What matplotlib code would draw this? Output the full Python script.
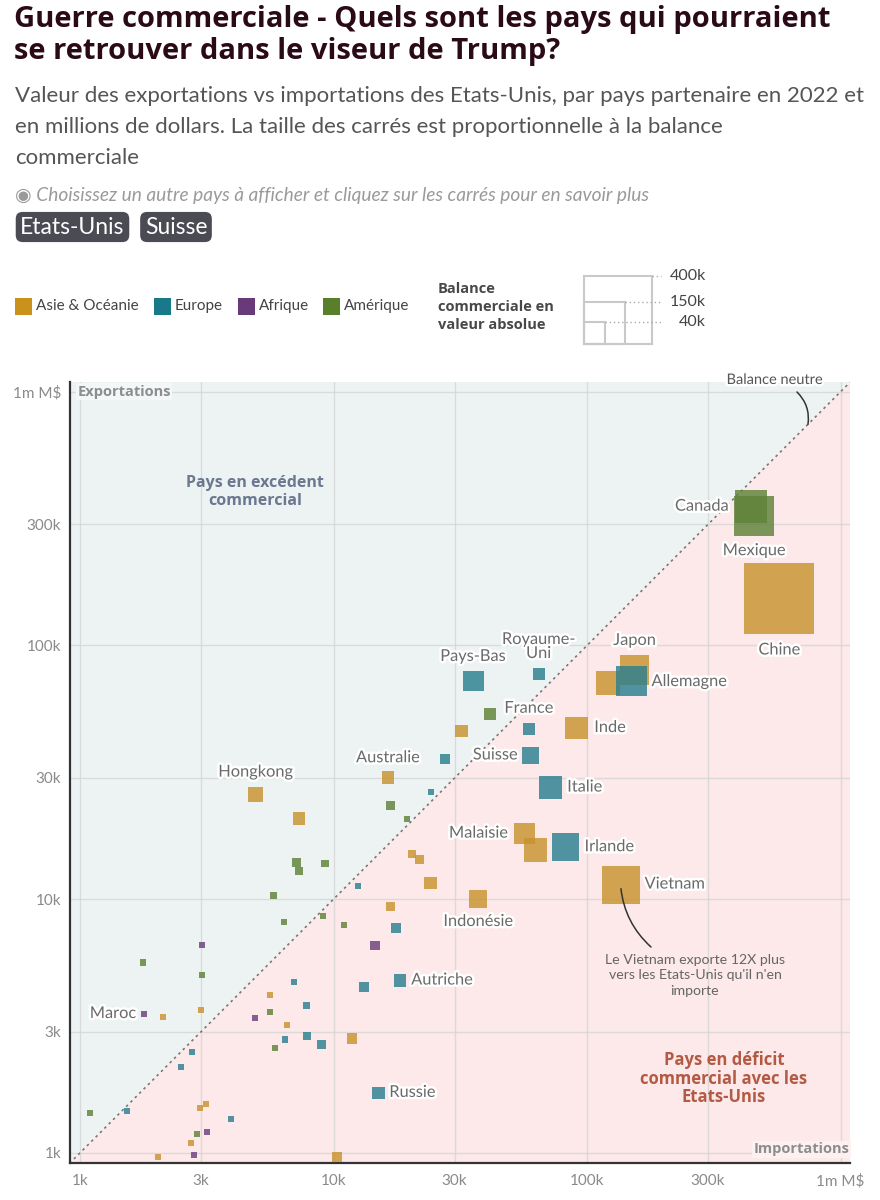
import numpy as np
import matplotlib
matplotlib.use('Agg')
import matplotlib.pyplot as plt
from matplotlib import patheffects as pe
from matplotlib.patches import Rectangle
from matplotlib.ticker import FixedLocator, FixedFormatter, NullLocator

plt.rcParams['font.family'] = ['Lato', 'DejaVu Sans']
GRAS = ['Open Sans', 'DejaVu Sans']

# données : importations / exportations des Etats-Unis (millions $), 2022
pays = ['Canada', 'Mexique', 'Chine', 'Japon', '', 'Allemagne', 'Inde', 'France', '', '',
        'Royaume-Uni', 'Pays-Bas', '', 'Suisse', 'Australie', '', 'Italie', 'Hongkong', '', '',
        '', 'Malaisie', '', 'Irlande', 'Vietnam', 'Indonésie', '', '', '', '',
        '', '', '', '', '', '', '', '', '', '',
        '', '', '', '', '', 'Autriche', '', '', '', 'Maroc',
        '', '', '', '', '', '', '', '', '', '',
        '', 'Russie', '', '', '', '', '', '', '', '',
        '', '', '']
importations = [443000, 456000, 573000, 154000, 121000, 149600, 90600, 58900, 41200, 32000,
                64400, 35500, 27400, 59900, 16400, 24200, 71500, 4920, 7300, 16700,
                19400, 56600, 62700, 82200, 135500, 37200, 20400, 21800, 24100, 12500,
                7130, 7280, 9250, 5780, 6350, 9080, 11000, 16800, 17600, 14600,
                3030, 1770, 3030, 6950, 13200, 18300, 5630, 5590, 3010, 1790,
                2130, 4880, 7810, 6550, 6440, 7850, 8970, 5890, 11800, 2770,
                2500, 15000, 1090, 1530, 3150, 2980, 3930, 3160, 2880, 2740,
                2820, 2020, 10300]
exportations = [352000, 323000, 153000, 80000, 71300, 72300, 47200, 46900, 53500, 46000,
                77100, 72400, 35600, 36800, 30200, 26400, 27500, 25800, 20800, 23300,
                20600, 18100, 15600, 16000, 11400, 10000, 15000, 14300, 11600, 11300,
                13900, 12900, 13800, 10300, 8140, 8550, 7930, 9330, 7690, 6550,
                6580, 5610, 5030, 4720, 4510, 4770, 4190, 3600, 3660, 3520,
                3420, 3400, 3810, 3180, 2790, 2890, 2670, 2590, 2820, 2500,
                2180, 1720, 1440, 1460, 1550, 1500, 1360, 1210, 1190, 1090,
                980, 960, 960]
regions = ['am', 'am', 'as', 'as', 'as', 'eu', 'as', 'eu', 'am', 'as',
           'eu', 'eu', 'eu', 'eu', 'as', 'eu', 'eu', 'as', 'as', 'am',
           'am', 'as', 'as', 'eu', 'as', 'as', 'as', 'as', 'as', 'eu',
           'am', 'am', 'am', 'am', 'am', 'am', 'am', 'as', 'eu', 'af',
           'af', 'am', 'am', 'eu', 'eu', 'eu', 'as', 'am', 'as', 'af',
           'as', 'af', 'eu', 'as', 'eu', 'eu', 'eu', 'am', 'as', 'eu',
           'eu', 'eu', 'am', 'eu', 'as', 'as', 'eu', 'af', 'am', 'as',
           'af', 'as', 'as']

noms_regions = {'as': 'Asie & Océanie', 'eu': 'Europe', 'af': 'Afrique', 'am': 'Amérique'}
couleurs = {'as': '#c8921c', 'eu': '#19788a', 'af': '#693a7a', 'am': '#5a7f2c'}
couleurs_pts = {'as': '#c8932e', 'eu': '#2a7f8f', 'af': '#6c3f7d', 'am': '#5f8238'}

graduations = [1e3, 3e3, 1e4, 3e4, 1e5, 3e5, 1e6]
etiquettes = ['1k', '3k', '10k', '30k', '100k', '300k', '1m M$']
legende_tailles = [400000, 150000, 40000]
legende_textes = ['400k', '150k', '40k']

# placement des noms de pays (décalage en pixels, alignement)
decalages = {
    'Canada': (-22, 0, 'right'), 'Mexique': (0, -35, 'center'), 'Chine': (0, -52, 'center'),
    'Japon': (0, 29, 'center'), 'Allemagne': (20, -1, 'left'), 'Royaume-Uni': (0, 27, 'center'),
    'Pays-Bas': (0, 24, 'center'), 'France': (0, 20, 'center'), 'Inde': (18, 0, 'left'),
    'Suisse': (-13, 0, 'right'), 'Australie': (0, 19, 'center'), 'Hongkong': (0, 22, 'center'),
    'Italie': (17, 0, 'left'), 'Malaisie': (-16, 0, 'right'), 'Irlande': (19, 0, 'left'),
    'Vietnam': (24, 0, 'left'), 'Indonésie': (0, -23, 'center'), 'Autriche': (11, 0, 'left'),
    'Maroc': (-8, 0, 'right'), 'Russie': (11, 0, 'left'),
}

W, H = 880, 1200
PT = 0.72  # points par pixel


def fx(px):
    return px / W


def fy(py):
    return 1 - py / H


def cote(balance):
    # côté du carré en pixels, aire proportionnelle à la balance
    return np.maximum(6, 68.4 * np.sqrt(np.abs(balance) / 400000))


fig = plt.figure(figsize=(W / 100, H / 100), dpi=100)
fig.patch.set_facecolor('white')

# titre et sous-titre
fig.text(fx(14), fy(19), 'Guerre commerciale - Quels sont les pays qui pourraient',
         fontsize=21, fontweight='bold', family=GRAS, color='#2a0a17', va='center')
fig.text(fx(14), fy(51), 'se retrouver dans le viseur de Trump?',
         fontsize=21, fontweight='bold', family=GRAS, color='#2a0a17', va='center')
sous_titre = ['Valeur des exportations vs importations des Etats-Unis, par pays partenaire en 2022 et',
              'en millions de dollars. La taille des carrés est proportionnelle à la balance',
              'commerciale']
for i, ligne in enumerate(sous_titre):
    fig.text(fx(15), fy(96 + 31 * i), ligne, fontsize=16, color='#555555', va='center')
fig.text(fx(15), fy(195), '◉ Choisissez un autre pays à afficher et cliquez sur les carrés pour en savoir plus',
         fontsize=13.8, style='italic', color='#9a9a9a', va='center')
for txt, xc in [('Etats-Unis', 72.5), ('Suisse', 176)]:
    fig.text(fx(xc), fy(227), txt, fontsize=16.5, color='white', ha='center', va='center',
             bbox=dict(boxstyle='round,pad=0.2,rounding_size=0.3', fc='#4b4b53', ec='none'))

# légende des couleurs
pos_leg = [(15, 'as'), (154, 'eu'), (238, 'af'), (323, 'am')]
for x0, r in pos_leg:
    fig.add_artist(Rectangle((fx(x0), fy(315)), 17 / W, 17.5 / H, transform=fig.transFigure,
                             fc=couleurs[r], ec='none'))
    fig.text(fx(x0 + 21), fy(306), noms_regions[r], fontsize=11, color='#444444', va='center')

# légende des tailles
for y0, ligne in zip([289, 307, 325], ['Balance', 'commerciale en', 'valeur absolue']):
    fig.text(fx(438), fy(y0), ligne, fontsize=10.5, fontweight='bold', family=GRAS,
             color='#484848', va='center')
bas, gauche = 344, 583.5
for val, txt in zip(legende_tailles, legende_textes):
    c = cote(val)
    fig.add_artist(Rectangle((fx(gauche), fy(bas)), c / W, c / H, transform=fig.transFigure,
                             fc='none', ec='#c9c9c9', lw=1.5))
    fig.add_artist(plt.Line2D([fx(gauche + c), fx(661)], [fy(bas - c), fy(bas - c)],
                              transform=fig.transFigure, color='#aaaaaa', lw=1, ls=(0, (1, 2))))
    fig.text(fx(706), fy(bas - c), txt, fontsize=11.5, color='#444444', ha='right', va='center')

# zone du graphique
ax = fig.add_axes([fx(69.5), fy(1162.7), (850 - 69.5) / W, (1162.7 - 381.5) / H])
ax.set_xscale('log')
ax.set_yscale('log')
xlo, xhi = 907.6, 1.089e6
ylo, yhi = 913, 1.097e6
ax.set_xlim(xlo, xhi)
ax.set_ylim(ylo, yhi)
ax.set_facecolor('white')

ax.fill([xlo, xhi, xhi, xlo], [xlo, xhi, yhi, yhi], color='#edf3f3', lw=0, zorder=0)
ax.fill([xlo, xhi, xhi, xlo], [ylo, ylo, xhi, xlo], color='#fde9e9', lw=0, zorder=0)
ax.plot([xlo, xhi], [xlo, xhi], color='#777777', lw=1.2, ls=(0, (1.5, 2.2)), zorder=2)

for axe in (ax.xaxis, ax.yaxis):
    axe.set_major_locator(FixedLocator(graduations))
    axe.set_major_formatter(FixedFormatter(etiquettes))
    axe.set_minor_locator(NullLocator())
ax.grid(True, color='#d5d5d5', lw=1, alpha=0.8, zorder=1)
ax.set_axisbelow(True)
ax.tick_params(length=0, labelsize=11, labelcolor='#8a8a8a')
ax.tick_params(axis='x', pad=8)
ax.tick_params(axis='y', pad=6)
for s in ['top', 'right']:
    ax.spines[s].set_visible(False)
for s in ['left', 'bottom']:
    ax.spines[s].set_color('#333333')
    ax.spines[s].set_linewidth(1.6)

imp = np.array(importations, dtype=float)
exp_ = np.array(exportations, dtype=float)
reg = np.array(regions)
tailles = (cote(imp - exp_) * PT) ** 2
for r in ['as', 'eu', 'af', 'am']:
    m = reg == r
    ax.scatter(imp[m], exp_[m], s=tailles[m], marker='s', c=couleurs_pts[r], alpha=0.82,
               linewidths=0, zorder=3)

halo = [pe.withStroke(linewidth=3.5, foreground='white')]
for nom, xi, yi in zip(pays, importations, exportations):
    if not nom:
        continue
    dx, dy, ha = decalages[nom]
    texte = 'Royaume-\nUni' if nom == 'Royaume-Uni' else nom
    ax.annotate(texte, (xi, yi), xytext=(dx * PT, dy * PT), textcoords='offset points',
                ha=ha, va='center', fontsize=11.8, color='#6a6a6a', linespacing=1.0,
                path_effects=halo, zorder=5)

# textes dans le graphique
ax.text(0.01, 0.987, 'Exportations', transform=ax.transAxes, fontsize=10.5, fontweight='bold',
        family=GRAS, color='#8d8d8d', va='center', ha='left', zorder=6,
        bbox=dict(fc='#f4f7f7', ec='none', pad=1))
ax.text(0.999, 0.017, 'Importations', transform=ax.transAxes, fontsize=10.5, fontweight='bold',
        family=GRAS, color='#8d8d8d', va='center', ha='right', zorder=6,
        bbox=dict(fc='#fdf0f0', ec='none', pad=1))

for y0, ligne in zip([483, 501], ['Pays en excédent', 'commercial']):
    fig.text(fx(255), fy(y0), ligne, fontsize=11.5, fontweight='bold', family=GRAS,
             color='#6b7890', ha='center', va='center')
for y0, ligne in zip([1060, 1079, 1097], ['Pays en déficit', 'commercial avec les', 'Etats-Unis']):
    fig.text(fx(724), fy(y0), ligne, fontsize=12, fontweight='bold', family=GRAS,
             color='#b35a44', ha='center', va='center')

fig.text(fx(775), fy(380), 'Balance neutre', fontsize=10.5, color='#555555', ha='center', va='center',
         path_effects=halo)
pt_neutre = 10 ** (3 + (808 - 80.7) / 253.3)
ax.annotate('', xy=(pt_neutre, pt_neutre), xytext=(fx(797), fy(392)), textcoords='figure fraction',
            arrowprops=dict(arrowstyle='-', color='#333333', lw=1.1,
                            connectionstyle='arc3,rad=-0.25', shrinkA=0, shrinkB=0))

i_vn = pays.index('Vietnam')
ax.annotate('', xy=(importations[i_vn], exportations[i_vn]), xytext=(fx(651), fy(947)),
            textcoords='figure fraction',
            arrowprops=dict(arrowstyle='-', color='#333333', lw=1.1,
                            connectionstyle='arc3,rad=-0.2', shrinkA=0, shrinkB=3), zorder=6)
for y0, ligne in zip([960, 975, 991], ['Le Vietnam exporte 12X plus',
                                       "vers les Etats-Unis qu'il n'en", 'importe']):
    fig.text(fx(695), fy(y0), ligne, fontsize=10.2, color='#666666', ha='center', va='center')

fig.savefig('out.png', dpi=100)
